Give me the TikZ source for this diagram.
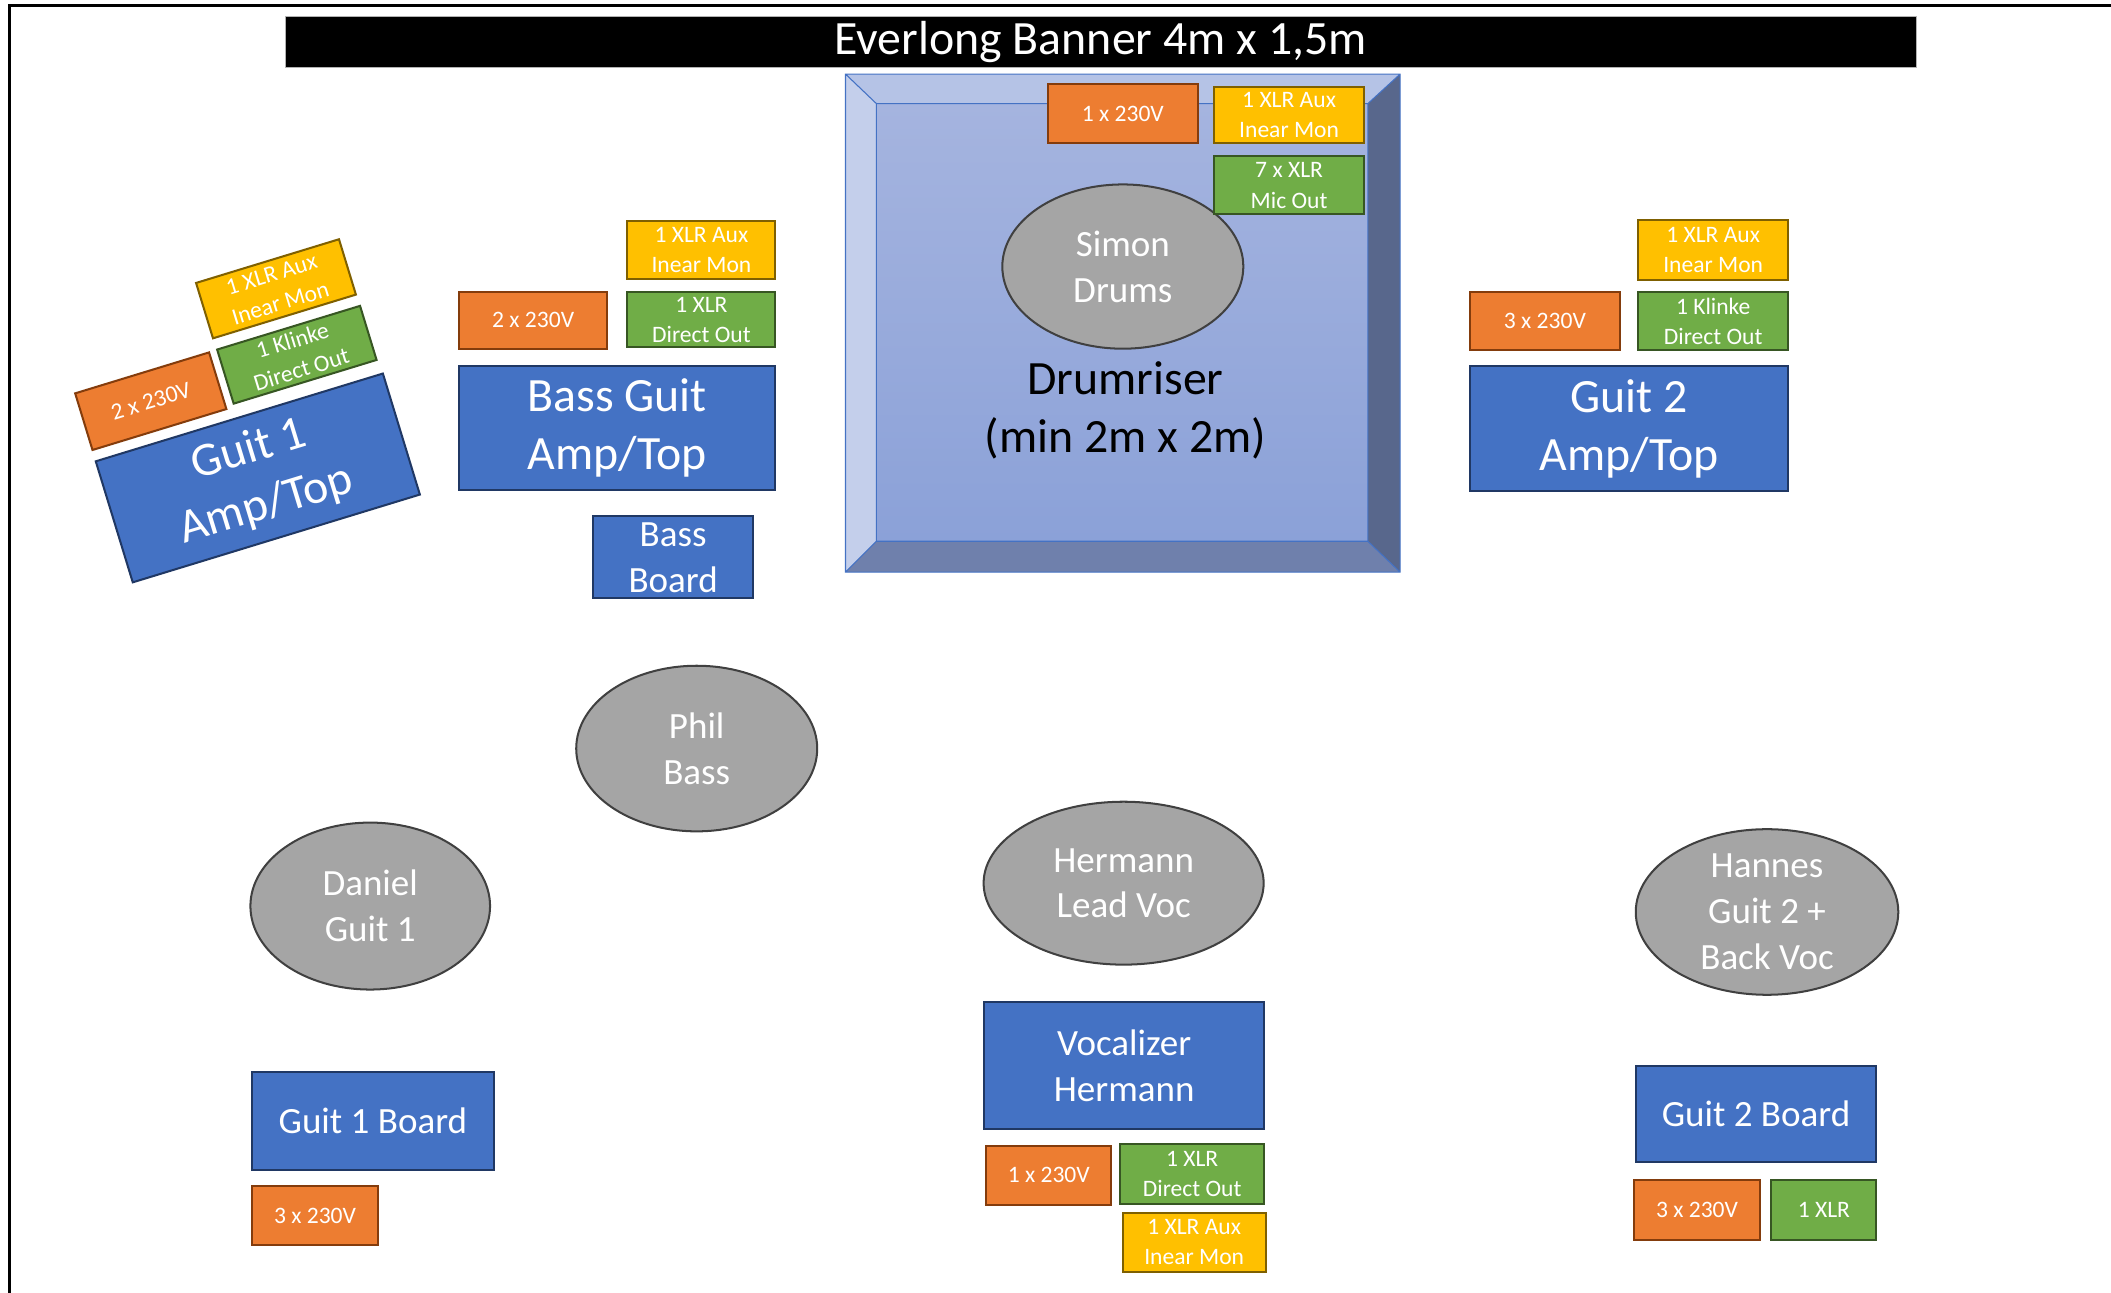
\documentclass[tikz,border=0pt]{standalone}
\usepackage{fontspec}
\setmainfont{Carlito}
\usetikzlibrary{shapes.geometric}

\definecolor{ampblue}{HTML}{4472C4}
\definecolor{ampedge}{HTML}{203864}
\definecolor{powerorange}{HTML}{ED7D31}
\definecolor{poweredge}{HTML}{843C0C}
\definecolor{inearyellow}{HTML}{FFC000}
\definecolor{inearedge}{HTML}{7F6000}
\definecolor{directgreen}{HTML}{70AD47}
\definecolor{directedge}{HTML}{375623}
\definecolor{persongray}{HTML}{A5A5A5}
\definecolor{personedge}{HTML}{404040}
\definecolor{risertop}{HTML}{A5B4DF}
\definecolor{riserbottom}{HTML}{8BA1D8}
\definecolor{bevtop}{HTML}{B5C3E6}
\definecolor{bevleft}{HTML}{C4CFEB}
\definecolor{bevright}{HTML}{58678C}
\definecolor{bevbottom}{HTML}{6F80AC}

\tikzset{
  box/.style={rectangle, line width=1.5pt, text=white, align=center, inner sep=0pt},
  amp/.style={box, draw=ampedge, fill=ampblue, font=\fontsize{35.5}{43}\selectfont},
  board/.style={amp, font=\fontsize{27.5}{34}\selectfont},
  plug/.style={box, font=\fontsize{17.5}{22.5}\selectfont, minimum width=111pt, minimum height=43pt},
  power/.style={plug, draw=poweredge, fill=powerorange},
  inear/.style={plug, draw=inearedge, fill=inearyellow},
  direct/.style={plug, draw=directedge, fill=directgreen},
  person/.style={ellipse, draw=personedge, fill=persongray, line width=1.5pt, text=white,
    align=center, inner xsep=0pt, inner ysep=-12pt, font=\fontsize{27.5}{34}\selectfont},
}

\begin{document}
\begin{tikzpicture}[x=1pt, y=-1pt]
  \useasboundingbox (0,0) rectangle (1568,960);
  \clip (0,0) rectangle (1568,960);
  \fill[white] (0,0) rectangle (1568,960);

  % stage frame
  \draw[line width=2pt] (7,970) -- (7,4) -- (1580,4);

  % banner
  \node[rectangle, fill=black, draw=gray!60, text=white, inner sep=0pt,
    minimum width=1211pt, minimum height=38pt, font=\fontsize{35.5}{43}\selectfont]
    (banner) at (817.5,31) {Everlong Banner 4m x 1,5m};

  % drumriser
  \fill[bevtop] (628,55) -- (1040,55) -- (1016,77) -- (651,77) -- cycle;
  \fill[bevleft] (628,55) -- (651,77) -- (651,402) -- (628,425) -- cycle;
  \fill[bevright] (1040,55) -- (1040,425) -- (1016,402) -- (1016,77) -- cycle;
  \fill[bevbottom] (628,425) -- (651,402) -- (1016,402) -- (1040,425) -- cycle;
  \shade[top color=risertop, bottom color=riserbottom] (651,77) rectangle (1016,402);
  \draw[ampblue, line width=0.8pt] (628,55) rectangle (1040,425) (651,77) rectangle (1016,402)
    (628,55) -- (651,77) (1040,55) -- (1016,77) (628,425) -- (651,402) (1040,425) -- (1016,402);
  \node[align=center, font=\fontsize{35.5}{43}\selectfont] (riser) at (836,305) {Drumriser\\(min 2m x 2m)};

  \node[person, minimum width=179pt, minimum height=122pt] (simon) at (834,198) {Simon\\Drums};
  \node[power, minimum height=44pt] (drumpower) at (834,84.5) {1 x 230V};
  \node[inear, minimum height=42pt] (druminear) at (957.5,85.5) {1 XLR Aux\\Inear Mon};
  \node[direct] (drumdirect) at (957.5,137.7) {7 x XLR\\Mic Out};

  % guitar 1 (turned)
  \node[amp, rotate=17, minimum width=223pt, minimum height=94pt] (guit1amp) at (191.5,355) {Guit 1\\Amp/Top};
  \node[power, rotate=17, minimum width=104pt, minimum height=44pt] (guit1power) at (112,298) {2 x 230V};
  \node[inear, rotate=17] (guit1inear) at (205,214.5) {1 XLR Aux\\Inear Mon};
  \node[direct, rotate=17, minimum height=42pt] (guit1direct) at (220.5,263.5) {1 Klinke\\Direct Out};

  % bass
  \node[amp, minimum width=235pt, minimum height=92pt] (bassamp) at (458.5,318) {Bass Guit\\Amp/Top};
  \node[power, minimum width=110pt, minimum height=42pt] (basspower) at (396,238) {2 x 230V};
  \node[inear, minimum width=110pt] (bassinear) at (521,185.5) {1 XLR Aux\\Inear Mon};
  \node[direct, minimum width=110pt, minimum height=41pt] (bassdirect) at (521,237.5) {1 XLR\\Direct Out};
  \node[board, minimum width=119pt, minimum height=61pt] (bassboard) at (500,414) {Bass\\Board};

  % guitar 2
  \node[amp, minimum width=236pt, minimum height=93pt] (guit2amp) at (1210,318.5) {Guit 2\\Amp/Top};
  \node[power] (guit2power) at (1147.5,238.5) {3 x 230V};
  \node[inear, minimum height=44pt] (guit2inear) at (1272.5,185.7) {1 XLR Aux\\Inear Mon};
  \node[direct] (guit2direct) at (1272.5,238.5) {1 Klinke\\Direct Out};

  % players
  \node[person, minimum width=179pt, minimum height=123pt] (phil) at (517.5,556) {Phil\\Bass};
  \node[person, minimum width=178pt, minimum height=124pt] (daniel) at (275,673) {Daniel\\Guit 1};
  \node[person, minimum width=208pt, minimum height=121pt] (hermann) at (834.6,656) {Hermann\\Lead Voc};
  \node[person, minimum width=195pt, minimum height=123pt] (hannes) at (1312.5,677.4) {Hannes\\Guit 2 +\\Back Voc};

  % boards at the front
  \node[board, minimum width=180pt, minimum height=73pt] (guit1board) at (277,832.5) {Guit 1 Board};
  \node[power, minimum width=94pt, minimum height=44pt] (guit1boardpower) at (234,903) {3 x 230V};

  \node[board, minimum width=208pt, minimum height=94pt] (vocalizer) at (835,791.5) {Vocalizer\\Hermann};
  \node[power, minimum width=93pt, minimum height=44pt] (vocpower) at (779,873) {1 x 230V};
  \node[direct, minimum width=107pt, minimum height=44pt] (vocdirect) at (885.5,872) {1 XLR\\Direct Out};
  \node[inear, minimum width=106pt, minimum height=44pt] (vocinear) at (887,922.7) {1 XLR Aux\\Inear Mon};

  \node[board, minimum width=178pt, minimum height=71pt] (guit2board) at (1304.3,827.3) {Guit 2 Board};
  \node[power, minimum width=94pt, minimum height=44pt] (guit2boardpower) at (1260.5,898.7) {3 x 230V};
  \node[direct, minimum width=78pt, minimum height=44pt] (guit2boardxlr) at (1354.7,898.7) {1 XLR};
\end{tikzpicture}
\end{document}
